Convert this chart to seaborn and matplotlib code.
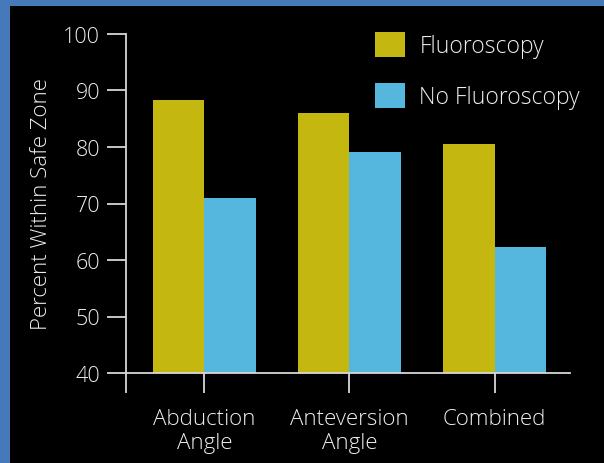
import matplotlib
matplotlib.use("Agg")
import matplotlib.pyplot as plt
import seaborn as sns
import pandas as pd
from matplotlib.patches import Rectangle

categories = ["Abduction\nAngle", "Anteversion\nAngle", "Combined"]
series = ["Fluoroscopy", "No Fluoroscopy"]
fluoroscopy = [88.3, 86.0, 80.5]
no_fluoroscopy = [71.0, 79.1, 62.3]
y_ticks = [40, 50, 60, 70, 80, 90, 100]

colors = ["#C4B70F", "#56B7DE"]
fg = "#EEEEEE"
line_c = "#D8D8D8"

df = pd.DataFrame({
    "Angle": categories * 2,
    "Percent": fluoroscopy + no_fluoroscopy,
    "Group": [series[0]] * 3 + [series[1]] * 3,
})

sns.set_theme(style="white")
plt.rcParams["font.family"] = ["Open Sans", "DejaVu Sans"]
plt.rcParams["font.weight"] = "light"
plt.rcParams["axes.labelweight"] = "light"

W, H = 604, 464
fig = plt.figure(figsize=(W / 100, H / 100), dpi=100)
fig.patch.set_facecolor("black")
fig.patches.append(Rectangle((0, 0), 10 / W, 1, transform=fig.transFigure,
                             facecolor="#4579BA", edgecolor="none", zorder=-10))
fig.patches.append(Rectangle((0, 1 - 7 / H), 1, 7 / H, transform=fig.transFigure,
                             facecolor="#4579BA", edgecolor="none", zorder=-10))

ax = fig.add_axes([126 / W, 1 - 374 / H, (570 - 126) / W, (374 - 35) / H])
ax.set_facecolor("black")

sns.barplot(data=df, x="Angle", y="Percent", hue="Group", hue_order=series,
            palette=colors, width=0.71, saturation=1, ax=ax, legend=True,
            edgecolor="none", linewidth=0)

ax.set_ylim(40, 100)
ax.set_xlim(-0.54, 2.52)
ax.set_yticks(y_ticks)
ax.set_yticklabels([str(t) for t in y_ticks])
ax.set_xticks(range(len(categories)))
ax.set_xticks([-0.54], minor=True)
ax.set_xticklabels(categories, linespacing=1.2)

for s in ["top", "right"]:
    ax.spines[s].set_visible(False)
for s in ["left", "bottom"]:
    ax.spines[s].set_color(line_c)
    ax.spines[s].set_linewidth(1.3)

ax.tick_params(axis="y", which="major", direction="out", length=13.7, width=1.3,
               color=line_c, labelcolor=fg, labelsize=15.5, pad=5, left=True)
ax.tick_params(axis="x", which="both", direction="out", length=14.4, width=1.3,
               color=line_c, labelcolor=fg, labelsize=16, pad=10.5, bottom=True)

ax.set_xlabel("")
ax.set_ylabel("Percent Within Safe Zone", color=fg, fontsize=16, labelpad=8)

leg = ax.legend(loc="upper left", bbox_to_anchor=(377 / W - 0.003, 1 - 33 / H),
                bbox_transform=fig.transFigure, frameon=False, fontsize=16.5,
                handlelength=1.31, handleheight=1.27, handletextpad=0.62,
                labelspacing=1.1, borderpad=0, borderaxespad=0)
for t in leg.get_texts():
    t.set_color(fg)
for h in leg.legend_handles:
    h.set_edgecolor("none")

fig.savefig("out.png", dpi=100, facecolor=fig.get_facecolor())
